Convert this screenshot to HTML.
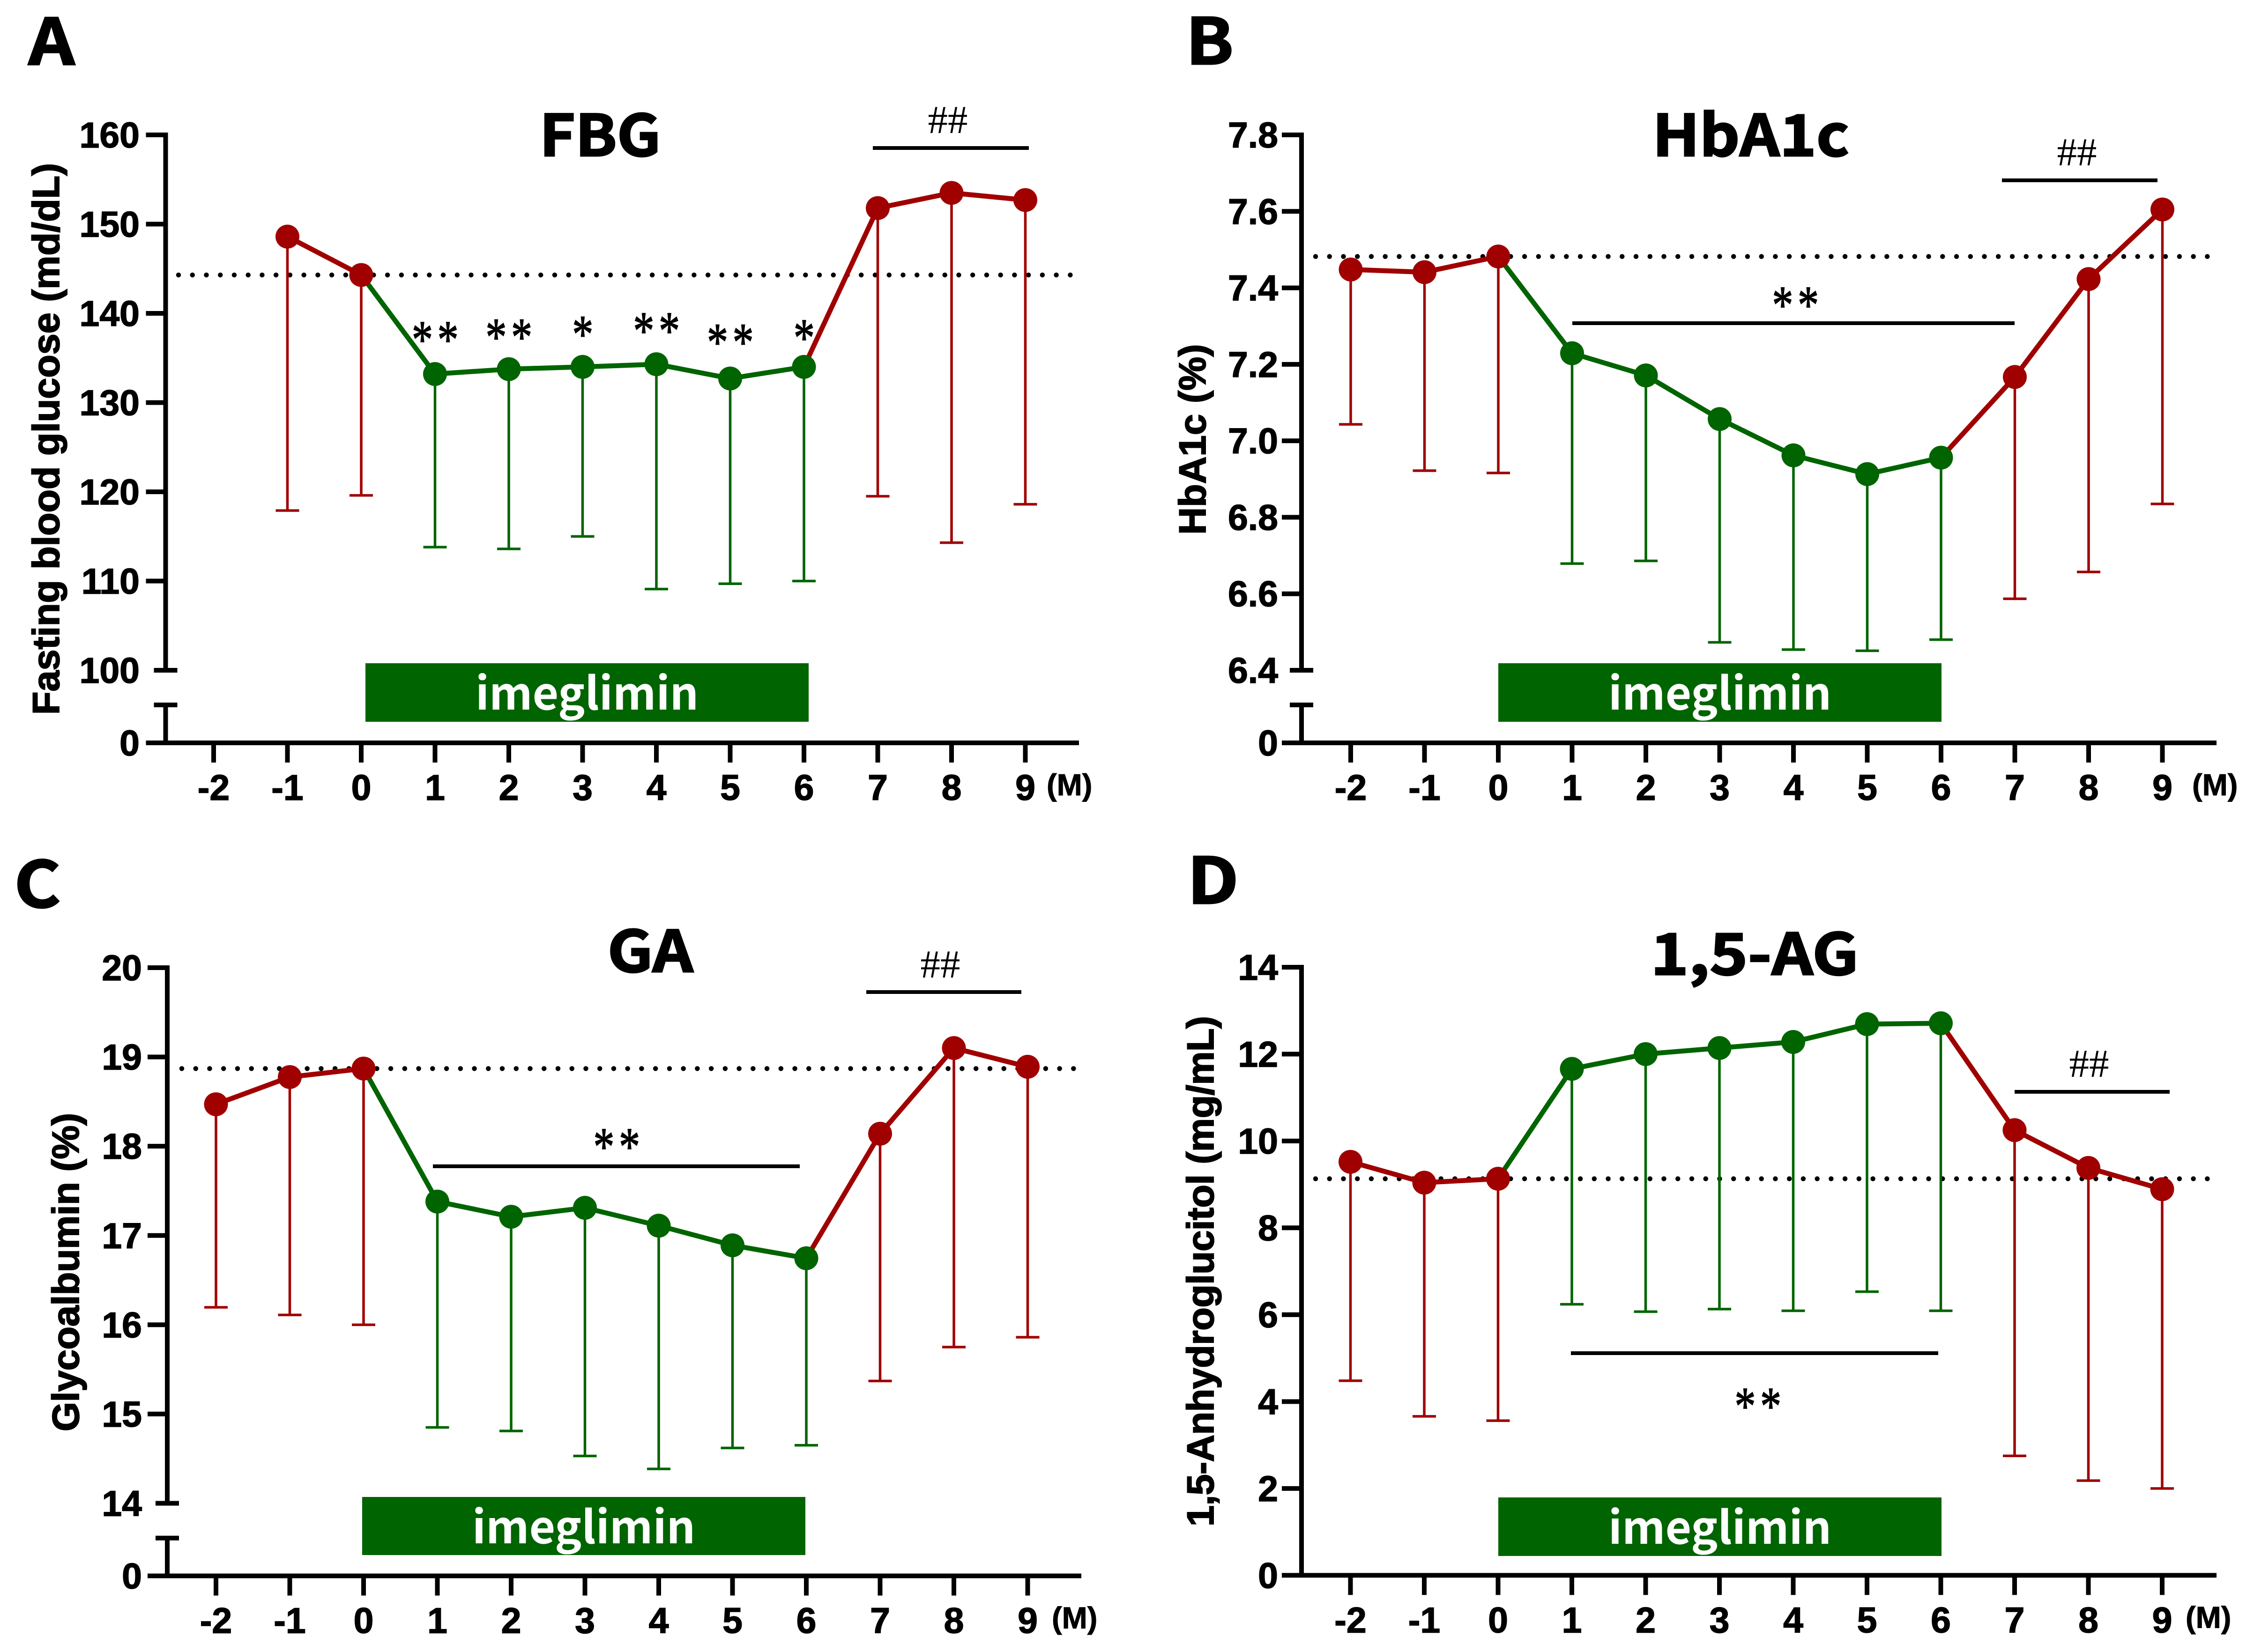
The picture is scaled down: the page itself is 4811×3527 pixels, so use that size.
<!DOCTYPE html>
<html><head><meta charset="utf-8"><title>Glycemic markers during imeglimin treatment</title>
<style>
html,body{margin:0;padding:0;background:#fff;width:4811px;height:3527px;overflow:hidden}
svg{display:block}
.tick{font:bold 77px "Liberation Sans",sans-serif;fill:#000;stroke:#000;stroke-width:1.5px}
.m{font:bold 65px "Liberation Sans",sans-serif;fill:#000;stroke:#000;stroke-width:1px}
.ytitle{font:bold 81px "Liberation Sans",sans-serif;fill:#000;stroke:#000;stroke-width:2px}
.title{font:bold 122px "Noto Sans CJK JP","Liberation Sans",sans-serif;fill:#000;stroke:#000;stroke-width:3px}
.letter{font:bold 136px "Noto Sans CJK JP","Liberation Sans",sans-serif;fill:#000;stroke:#000;stroke-width:3px}
.drug{font:bold 96px "Noto Sans CJK JP","Liberation Sans",sans-serif;fill:#fff}
.hash{font:85px "Liberation Serif",serif;fill:#000}
.star{font:95px "Liberation Serif",serif;fill:#000;stroke:#000;stroke-width:1.5px;letter-spacing:10px}
</style></head>
<body>
<svg id="figure" xmlns="http://www.w3.org/2000/svg" width="4811" height="3527" viewBox="0 0 4811 3527"></svg>
<script>
// ---- shared categories ----
const months = [-2,-1,0,1,2,3,4,5,6,7,8,9];
const monthLabels = ['-2','-1','0','1','2','3','4','5','6','7','8','9'];

// ---- panel A: FBG ----
const fbgMeans = [null,148.6,144.3,133.2,133.75,134.0,134.3,132.7,134.0,151.8,153.5,152.7];
const fbgLower = [null,117.9,119.6,113.8,113.6,115.0,109.1,109.7,110.0,119.5,114.3,118.6];
const fbgTicks = ['100','110','120','130','140','150','160'];
const fbgBaseline = 144.3;
const fbgStars = ['**','**','*','**','**','*'];
const fbgStarValues = [137.9,138.2,138.5,138.9,137.6,138.1];

// ---- panel B: HbA1c ----
const hbaMeans = [7.448,7.441,7.482,7.229,7.171,7.057,6.962,6.913,6.956,7.167,7.423,7.605];
const hbaLower = [7.043,6.922,6.916,6.679,6.686,6.473,6.454,6.451,6.480,6.587,6.657,6.835];
const hbaTicks = ['6.4','6.6','6.8','7.0','7.2','7.4','7.6','7.8'];
const hbaBaseline = 7.482;

// ---- panel C: GA ----
const gaMeans = [18.47,18.775,18.87,17.38,17.21,17.31,17.11,16.89,16.745,18.14,19.10,18.89];
const gaLower = [16.195,16.11,16.0,14.85,14.81,14.53,14.385,14.62,14.65,15.37,15.75,15.86];
const gaTicks = ['14','15','16','17','18','19','20'];
const gaBaseline = 18.87;

// ---- panel D: 1,5-AG ----
const agMeans = [9.52,9.04,9.13,11.66,12.0,12.14,12.28,12.69,12.71,10.25,9.38,8.89];
const agLower = [4.48,3.66,3.56,6.24,6.07,6.13,6.09,6.53,6.09,2.75,2.18,2.0];
const agTicks = ['0','2','4','6','8','10','12','14'];
const agBaseline = 9.13;

const RED = '#a00000', GREEN = '#006400';
const NS = 'http://www.w3.org/2000/svg';
const root = document.getElementById('figure');

function make(parent, tag, attrs, text) {
  const el = document.createElementNS(NS, tag);
  for (const k in attrs) el.setAttribute(k, attrs[k]);
  if (text !== undefined) el.textContent = text;
  parent.appendChild(el);
  return el;
}
function isDrug(m) { return m >= 1 && m <= 6; }
function starTransform(x, yCenter) {
  return 'translate(' + x + ',' + (yCenter + 54) + ') scale(.95,1.2)';
}

function drawPanel(c) {
  const g = make(root, 'g', {});
  
  

  const xOf = m => c.x0 + (m + 2) * 157.5;
  const lo = parseFloat(c.ticks[0]), hi = parseFloat(c.ticks[c.ticks.length - 1]);
  const yOf = v => c.yLo + (v - lo) * (c.yHi - c.yLo) / (hi - lo);

  const letter = make(g, 'text', {'class': 'letter', 'text-anchor': 'middle',
    transform: 'translate(' + c.letterX + ',' + c.letterY + ') scale(' + c.letterSx + ',1)'}, c.letter);
  
  

  const title = make(g, 'text', {'class': 'title', 'text-anchor': 'middle',
    transform: 'translate(' + c.titleX + ',' + c.titleY + ') scale(' + c.titleSx + ',1)'}, c.title);
  
  

  const yt = make(g, 'text', {'class': 'ytitle', 'text-anchor': 'middle', textLength: c.ytLen, lengthAdjust: 'spacing',
    transform: 'translate(' + c.ytX + ',' + c.ytY + ') rotate(-90)'}, c.ytitle);
  
  

  // drug bar
  const bar = make(g, 'rect', {x: c.barX, y: c.barY, width: 946, height: c.barH, fill: GREEN});
  
  
  const drug = make(g, 'text', {x: c.barX + 473, y: c.barY + 99, 'class': 'drug', 'text-anchor': 'middle'}, 'imeglimin');
  
  

  // reference dotted line
  const ref = make(g, 'line', {x1: c.dotX1, x2: c.dotX2, y1: yOf(c.baseline), y2: yOf(c.baseline), stroke: '#000',
    'stroke-width': 10.5, 'stroke-linecap': 'round', 'stroke-dasharray': '0 29.74'});
  
  

  // y axis
  const yTop = yOf(hi) - 5;
  if (c.broken) {
    const ax1 = make(g, 'line', {x1: c.ax, x2: c.ax, y1: yTop, y2: yOf(lo), stroke: '#000', 'stroke-width': 10});
    
    
    const ax2 = make(g, 'line', {x1: c.ax, x2: c.ax, y1: c.breakY, y2: c.y0, stroke: '#000', 'stroke-width': 10});
    
    
    const capA = make(g, 'line', {x1: c.ax - 25, x2: c.ax + 25, y1: yOf(lo), y2: yOf(lo), stroke: '#000', 'stroke-width': 10});
    
    
    const capB = make(g, 'line', {x1: c.ax - 25, x2: c.ax + 25, y1: c.breakY, y2: c.breakY, stroke: '#000', 'stroke-width': 10});
    
    
    const zero = make(g, 'text', {x: c.labelX, y: c.y0 + 27, 'class': 'tick', 'text-anchor': 'end'}, '0');
    
    
  } else {
    const ax = make(g, 'line', {x1: c.ax, x2: c.ax, y1: yTop, y2: c.y0, stroke: '#000', 'stroke-width': 10});
    
    
  }
  c.ticks.forEach(function (t, i) {
    const v = parseFloat(t), y = yOf(v);
    if (!(c.broken && i === 0) && !(!c.broken && v === 0)) {
      const tk = make(g, 'line', {x1: c.ax - 42, x2: c.ax, y1: y, y2: y, stroke: '#000', 'stroke-width': 10});
      
      
    }
    const lb = make(g, 'text', {x: c.labelX, y: y + 27, 'class': 'tick', 'text-anchor': 'end'}, t);
    
    
  });

  // x axis
  const xa = make(g, 'line', {x1: c.ax - 42, x2: c.xEnd, y1: c.y0, y2: c.y0, stroke: '#000', 'stroke-width': 10});
  
  
  months.forEach(function (m, i) {
    const tk = make(g, 'line', {x1: xOf(m), x2: xOf(m), y1: c.y0, y2: c.y0 + 42, stroke: '#000', 'stroke-width': 10});
    
    
    const lb = make(g, 'text', {x: xOf(m), y: c.y0 + 122, 'class': 'tick', 'text-anchor': 'middle'}, monthLabels[i]);
    
    
  });
  const unit = make(g, 'text', {x: c.unitX, y: c.y0 + 112, 'class': 'm'}, '(M)');
  
  

  // error bars (lower only)
  months.forEach(function (m, i) {
    if (c.means[i] === null) return;
    const col = isDrug(m) ? GREEN : RED;
    const st = make(g, 'line', {x1: xOf(m), x2: xOf(m), y1: yOf(c.means[i]), y2: yOf(c.lower[i]), stroke: col, 'stroke-width': 5.5});
    
    
    const cp = make(g, 'line', {x1: xOf(m) - 25, x2: xOf(m) + 25, y1: yOf(c.lower[i]), y2: yOf(c.lower[i]), stroke: col, 'stroke-width': 5.5});
    
    
  });

  // connecting segments
  months.forEach(function (m, i) {
    if (i === 0 || c.means[i] === null || c.means[i - 1] === null) return;
    const col = isDrug(m) ? GREEN : RED;
    const sg = make(g, 'line', {x1: xOf(months[i - 1]), y1: yOf(c.means[i - 1]), x2: xOf(m), y2: yOf(c.means[i]), stroke: col, 'stroke-width': 10.5});
    
    
  });

  // markers
  months.forEach(function (m, i) {
    if (c.means[i] === null) return;
    const col = isDrug(m) ? GREEN : RED;
    const pt = make(g, 'circle', {cx: xOf(m), cy: yOf(c.means[i]), r: 25.5, fill: col});
    
    
  });

  // significance brackets
  c.brackets.forEach(function (b) {
    const ln = make(g, 'line', {x1: b.x1, x2: b.x2, y1: b.y, y2: b.y, stroke: '#000', 'stroke-width': 8});
    
    
    const attrs = b.cls === 'star'
      ? {transform: starTransform(b.tx, b.ty), 'class': 'star', 'text-anchor': 'middle'}
      : {x: b.tx, y: b.ty, 'class': b.cls, 'text-anchor': 'middle'};
    const tx = make(g, 'text', attrs, b.text);
    
    
  });

  // per-month stars
  (c.stars || []).forEach(function (s, i) {
    const tx = make(g, 'text', {transform: starTransform(xOf(i + 1) + 5, yOf(c.starValues[i])), 'class': 'star', 'text-anchor': 'middle'}, s);
    
    
  });
}

drawPanel({key:'fbg', letter:'A', letterX:110, letterY:138, letterSx:1.13, title:'FBG', titleX:1281, titleY:333, titleSx:1.07,
  ytitle:'Fasting blood glucose (md/dL)', ytX:126, ytY:937, ytLen:1178,
  x0:456, ax:353.5, xEnd:2303, y0:1586, yLo:1431, yHi:288, broken:true, breakY:1505, labelX:298, unitX:2234,
  ticks:fbgTicks, means:fbgMeans, lower:fbgLower, baseline:fbgBaseline,
  barX:780, barY:1416, barH:125, dotX1:381, dotX2:2290, stars:fbgStars, starValues:fbgStarValues,
  brackets:[{x1:1863,x2:2196,y:316,tx:2023,ty:284,cls:'hash',text:'##'}]});

drawPanel({key:'hba1c', letter:'B', letterX:2582, letterY:137, letterSx:1.1, title:'HbA1c', titleX:3737, titleY:333, titleSx:1.09,
  ytitle:'HbA1c (%)', ytX:2573, ytY:938, ytLen:407,
  x0:2883, ax:2778, xEnd:4731, y0:1586, yLo:1431, yHi:288, broken:true, breakY:1505, labelX:2728, unitX:4679,
  ticks:hbaTicks, means:hbaMeans, lower:hbaLower, baseline:hbaBaseline,
  barX:3198, barY:1416, barH:125, dotX1:2808, dotX2:4716,
  brackets:[{x1:4273,x2:4605,y:385,tx:4433,ty:353,cls:'hash',text:'##'},
            {x1:3356,x2:4300,y:690,tx:3837,ty:635,cls:'star',text:'**'}]});

drawPanel({key:'ga', letter:'C', letterX:80, letterY:1937, letterSx:1.11, title:'GA', titleX:1388, titleY:2075, titleSx:1.11,
  ytitle:'Glycoalbumin (%)', ytX:168, ytY:2716, ytLen:680,
  x0:461, ax:357, xEnd:2308, y0:3364.5, yLo:3209.5, yHi:2066, broken:true, breakY:3283.7, labelX:303, unitX:2245,
  ticks:gaTicks, means:gaMeans, lower:gaLower, baseline:gaBaseline,
  barX:773, barY:3196, barH:124, dotX1:388, dotX2:2296,
  brackets:[{x1:1849,x2:2180,y:2118,tx:2007,ty:2087,cls:'hash',text:'##'},
            {x1:924,x2:1707,y:2490,tx:1321,ty:2432,cls:'star',text:'**'}]});

drawPanel({key:'ag', letter:'D', letterX:2589, letterY:1929, letterSx:1.13, title:'1,5-AG', titleX:3745, titleY:2081, titleSx:1.13,
  ytitle:'1,5-Anhydroglucitol (mg/mL)', ytX:2590, ytY:2714, ytLen:1090,
  x0:2882.5, ax:2778, xEnd:4731, y0:3363.3, yLo:3363.3, yHi:2065, broken:false, labelX:2728, unitX:4665,
  ticks:agTicks, means:agMeans, lower:agLower, baseline:agBaseline,
  barX:3198, barY:3197, barH:125, dotX1:2808, dotX2:4716,
  brackets:[{x1:4300,x2:4631,y:2331,tx:4459,ty:2299,cls:'hash',text:'##'},
            {x1:3353,x2:4137,y:2889,tx:3757,ty:2986,cls:'star',text:'**'}]});
</script>
</body></html>
